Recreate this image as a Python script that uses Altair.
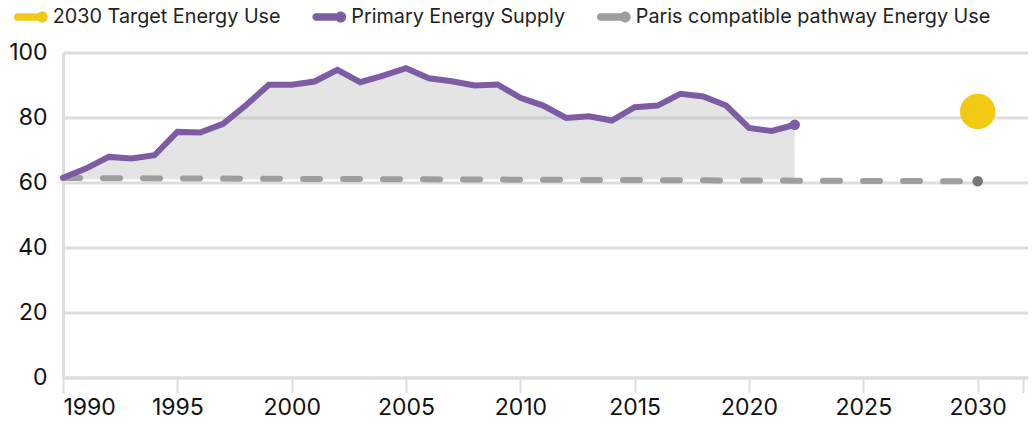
import altair as alt
import pandas as pd

years = list(range(1990, 2023))
primary = [61.5, 64.3, 67.9, 67.4, 68.4, 75.6, 75.4, 78.1, 83.8, 90.1,
           90.1, 91.1, 94.7, 90.9, 92.9, 95.2, 92.1, 91.2, 89.9, 90.2,
           86.1, 83.7, 79.9, 80.4, 79.1, 83.2, 83.7, 87.3, 86.5, 83.7,
           76.8, 75.9, 77.8]
paris_years = [1990, 2030]
paris_values = [61.4, 60.4]
target_year = [2030]
target_value = [81.9]

series_names = ["2030 Target Energy Use", "Primary Energy Supply",
                "Paris compatible pathway Energy Use"]
series_colors = ["#F2C913", "#7D5CA3", "#9E9E9E"]

FONT = "Inter"

df_primary = pd.DataFrame({"year": years, "value": primary})
df_paris = pd.DataFrame({"year": paris_years, "value": paris_values})
df_points = pd.DataFrame({
    "year": [target_year[0], years[-1]],
    "value": [target_value[0], primary[-1]],
    "series": [series_names[0], series_names[1]],
    "size": [1257, 110],
})
df_paris_end = pd.DataFrame({"year": [paris_years[-1]], "value": [paris_values[-1]]})

xscale = alt.Scale(domain=[1990, 2032.2], nice=False, zero=False)
yscale = alt.Scale(domain=[0, 100], nice=False)

xaxis = alt.Axis(values=[1990, 1995, 2000, 2005, 2010, 2015, 2020, 2025, 2030, 2032],
                 labelExpr="datum.value == 2032 ? '' : datum.label",
                 format="d", grid=False, domainColor="#DDDDDD", domainWidth=3,
                 tickColor="#DDDDDD", tickWidth=2, tickSize=15,
                 labelFont=FONT, labelFontSize=23, labelColor="#111111",
                 labelPadding=4, title=None)
yaxis = alt.Axis(values=[0, 20, 40, 60, 80, 100], grid=True, gridColor="#DDDDDD",
                 gridWidth=3, domainColor="#DDDDDD", domainWidth=3, ticks=False,
                 labelFont=FONT, labelFontSize=23, labelColor="#111111",
                 labelPadding=16, title=None)

x = alt.X("year:Q", scale=xscale, axis=xaxis)
y = alt.Y("value:Q", scale=yscale, axis=yaxis)

area = alt.Chart(df_primary).mark_area(color="#BBBBBB", opacity=0.4).encode(
    x=x, y=y, y2=alt.datum(61))

paris_line = alt.Chart(df_paris).mark_line(
    color="#9E9E9E", strokeWidth=6, strokeDash=[17, 23], strokeCap="round").encode(
    x=alt.X("year:Q", scale=xscale), y=alt.Y("value:Q", scale=yscale))

primary_line = alt.Chart(df_primary).mark_line(
    color="#7D5CA3", strokeWidth=6, strokeCap="round").encode(
    x=alt.X("year:Q", scale=xscale), y=alt.Y("value:Q", scale=yscale))

sym = ("M-1.478,-0.411 L0.9,-0.411 L0.9,0.411 L-1.478,0.411 "
       "A0.411,0.411 0 0 1 -1.478,-0.411 Z "
       "M0.645,0 A0.611,0.611 0 1 1 1.867,0 A0.611,0.611 0 1 1 0.645,0 Z")

points = alt.Chart(df_points).mark_point(filled=True, opacity=1, shape="circle").encode(
    x=alt.X("year:Q", scale=xscale), y=alt.Y("value:Q", scale=yscale),
    size=alt.Size("size:Q", scale=None, legend=None),
    color=alt.Color("series:N",
                    scale=alt.Scale(domain=series_names, range=series_colors),
                    legend=alt.Legend(orient="none", legendX=-42, legendY=-45.6,
                                      direction="horizontal", title=None,
                                      symbolType=sym, symbolSize=324,
                                      symbolStrokeWidth=0, symbolOpacity=1,
                                      labelFont=FONT, labelFontSize=19.8,
                                      labelColor="#222222", labelOffset=12,
                                      labelLimit=0,
                                      columnPadding=30.5, padding=0)))

paris_end = alt.Chart(df_paris_end).mark_point(filled=True, opacity=1, size=110,
                                               color="#777777").encode(
    x=alt.X("year:Q", scale=xscale), y=alt.Y("value:Q", scale=yscale))

chart = alt.layer(area, paris_line, primary_line, points, paris_end).properties(
    width=965, height=325,
    autosize=alt.AutoSizeParams(type="none"),
    padding={"left": 55, "top": 44.6, "right": 0, "bottom": 46},
).configure_view(stroke=None)

chart.save("out.html", embed_options={"renderer": "svg", "actions": False})
